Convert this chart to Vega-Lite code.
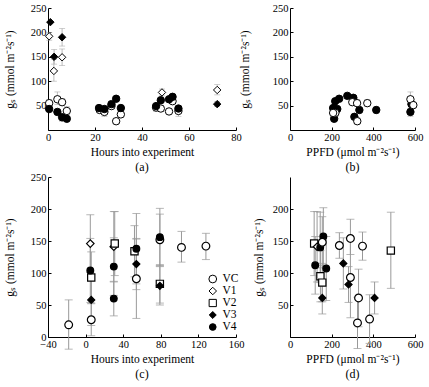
{
  "$schema": "https://vega.github.io/schema/vega-lite/v6.json",
  "background": "white",
  "padding": {"left": 4, "top": 3, "right": 2, "bottom": 2},
  "config": {
    "view": {"stroke": null},
    "font": "Liberation Serif",
    "axis": {"grid": false, "domainColor": "black", "tickColor": "black", "tickSize": -3, "labelPadding": 5, "labelFont": "Liberation Serif", "labelFontSize": 10.5, "labelColor": "black", "titleFont": "Liberation Serif", "titleFontSize": 11.5, "titleFontWeight": "normal", "titleColor": "black", "labelFlush": false, "labelOverlap": false},
    "axisY": {"titlePadding": 15},
    "axisX": {"titlePadding": 4},
    "legend": {"labelFont": "Liberation Serif", "labelFontSize": 11.5, "labelColor": "black", "labelOffset": 4, "symbolSize": 55, "symbolStrokeColor": "black", "symbolStrokeWidth": 1},
    "title": {"font": "Liberation Serif", "fontSize": 12, "fontWeight": "normal", "color": "black", "orient": "bottom", "frame": "group", "anchor": "middle", "offset": 4}
  },
  "datasets": {
    "pts": [
      {"p": "a", "s": "V3", "x": 1, "y": 221},
      {"p": "a", "s": "V3", "x": 2.6, "y": 150, "lo": 135, "hi": 165},
      {"p": "a", "s": "V3", "x": 6, "y": 190, "lo": 172, "hi": 208},
      {"p": "a", "s": "V3", "x": 72, "y": 53, "lo": 48, "hi": 58},
      {"p": "a", "s": "V1", "x": 0.5, "y": 192, "lo": 184, "hi": 200},
      {"p": "a", "s": "V1", "x": 2.5, "y": 121, "lo": 100, "hi": 145},
      {"p": "a", "s": "V1", "x": 6, "y": 149, "lo": 132, "hi": 166},
      {"p": "a", "s": "V1", "x": 48.5, "y": 77, "lo": 70, "hi": 84},
      {"p": "a", "s": "V1", "x": 72, "y": 82, "lo": 72, "hi": 93},
      {"p": "a", "s": "VC", "x": 0.5, "y": 55, "lo": 48, "hi": 62},
      {"p": "a", "s": "VC", "x": 4, "y": 63, "lo": 52, "hi": 78},
      {"p": "a", "s": "VC", "x": 6, "y": 57, "lo": 50, "hi": 64},
      {"p": "a", "s": "VC", "x": 8, "y": 39, "lo": 32, "hi": 48},
      {"p": "a", "s": "VC", "x": 22, "y": 41, "lo": 36, "hi": 46},
      {"p": "a", "s": "VC", "x": 24, "y": 37, "lo": 28, "hi": 44},
      {"p": "a", "s": "VC", "x": 27, "y": 49, "lo": 44, "hi": 54},
      {"p": "a", "s": "VC", "x": 29, "y": 18, "lo": 12, "hi": 24},
      {"p": "a", "s": "VC", "x": 31, "y": 32, "lo": 26, "hi": 38},
      {"p": "a", "s": "VC", "x": 46, "y": 46, "lo": 38, "hi": 52},
      {"p": "a", "s": "VC", "x": 48, "y": 44, "lo": 38, "hi": 50},
      {"p": "a", "s": "VC", "x": 51.5, "y": 38, "lo": 33, "hi": 43},
      {"p": "a", "s": "VC", "x": 53, "y": 59, "lo": 54, "hi": 64},
      {"p": "a", "s": "VC", "x": 55.5, "y": 39, "lo": 28, "hi": 46},
      {"p": "a", "s": "V4", "x": 0.5, "y": 43},
      {"p": "a", "s": "V4", "x": 4, "y": 37},
      {"p": "a", "s": "V4", "x": 6, "y": 26, "lo": 18, "hi": 34},
      {"p": "a", "s": "V4", "x": 8, "y": 23},
      {"p": "a", "s": "V4", "x": 21.7, "y": 45},
      {"p": "a", "s": "V4", "x": 24, "y": 43},
      {"p": "a", "s": "V4", "x": 27, "y": 53},
      {"p": "a", "s": "V4", "x": 29, "y": 64},
      {"p": "a", "s": "V4", "x": 31, "y": 45},
      {"p": "a", "s": "V4", "x": 46, "y": 49},
      {"p": "a", "s": "V4", "x": 48, "y": 61, "lo": 55, "hi": 67},
      {"p": "a", "s": "V4", "x": 51.5, "y": 63},
      {"p": "a", "s": "V4", "x": 53, "y": 68},
      {"p": "a", "s": "V4", "x": 55.5, "y": 44},
      {"p": "b", "s": "V4", "x": 207, "y": 45},
      {"p": "b", "s": "V4", "x": 217, "y": 59},
      {"p": "b", "s": "V4", "x": 236, "y": 64},
      {"p": "b", "s": "V4", "x": 227, "y": 43},
      {"p": "b", "s": "V4", "x": 212, "y": 23},
      {"p": "b", "s": "V4", "x": 275, "y": 70},
      {"p": "b", "s": "V4", "x": 304, "y": 66},
      {"p": "b", "s": "V4", "x": 333, "y": 41},
      {"p": "b", "s": "V4", "x": 309, "y": 27},
      {"p": "b", "s": "V4", "x": 414, "y": 41, "lo": 35, "hi": 47},
      {"p": "b", "s": "V4", "x": 583, "y": 53, "lo": 45, "hi": 61},
      {"p": "b", "s": "V4", "x": 578, "y": 37, "lo": 28, "hi": 44},
      {"p": "b", "s": "VC", "x": 218, "y": 35, "lo": 28, "hi": 42},
      {"p": "b", "s": "VC", "x": 207, "y": 35},
      {"p": "b", "s": "VC", "x": 299, "y": 57},
      {"p": "b", "s": "VC", "x": 322, "y": 55, "lo": 48, "hi": 62},
      {"p": "b", "s": "VC", "x": 323, "y": 18, "lo": 12, "hi": 25},
      {"p": "b", "s": "VC", "x": 371, "y": 55, "lo": 48, "hi": 62},
      {"p": "b", "s": "VC", "x": 578, "y": 63, "lo": 52, "hi": 78},
      {"p": "b", "s": "VC", "x": 592, "y": 51},
      {"p": "c", "s": "VC", "x": -18, "y": 19, "lo": -19, "hi": 58},
      {"p": "c", "s": "VC", "x": 6, "y": 27, "lo": 2, "hi": 52},
      {"p": "c", "s": "VC", "x": 54, "y": 91, "lo": 29, "hi": 153},
      {"p": "c", "s": "VC", "x": 79, "y": 152, "lo": 112, "hi": 192},
      {"p": "c", "s": "VC", "x": 102, "y": 140, "lo": 117, "hi": 165},
      {"p": "c", "s": "VC", "x": 128, "y": 142, "lo": 121, "hi": 162},
      {"p": "c", "s": "V1", "x": 5, "y": 146, "lo": 101, "hi": 191},
      {"p": "c", "s": "V1", "x": 30, "y": 141, "lo": 86, "hi": 196},
      {"p": "c", "s": "V2", "x": 6, "y": 93, "lo": 53, "hi": 133},
      {"p": "c", "s": "V2", "x": 31, "y": 146, "lo": 96, "hi": 196},
      {"p": "c", "s": "V2", "x": 52, "y": 134, "lo": 94, "hi": 174},
      {"p": "c", "s": "V2", "x": 79, "y": 83, "lo": 53, "hi": 113},
      {"p": "c", "s": "V3", "x": 6, "y": 58, "lo": 18, "hi": 98},
      {"p": "c", "s": "V3", "x": 54, "y": 114, "lo": 74, "hi": 154},
      {"p": "c", "s": "V3", "x": 79, "y": 80, "lo": 50, "hi": 110},
      {"p": "c", "s": "V4", "x": 5, "y": 104, "lo": 54, "hi": 154},
      {"p": "c", "s": "V4", "x": 30, "y": 110, "lo": 65, "hi": 155},
      {"p": "c", "s": "V4", "x": 30, "y": 60, "lo": 33, "hi": 87},
      {"p": "c", "s": "V4", "x": 54, "y": 138, "lo": 83, "hi": 193},
      {"p": "c", "s": "V4", "x": 79, "y": 156, "lo": 111, "hi": 201},
      {"p": "d", "s": "V2", "x": 116, "y": 146, "lo": 96, "hi": 196},
      {"p": "d", "s": "V2", "x": 146, "y": 95, "lo": 55, "hi": 135},
      {"p": "d", "s": "V2", "x": 155, "y": 85, "lo": 55, "hi": 115},
      {"p": "d", "s": "V2", "x": 484, "y": 135, "lo": 76, "hi": 195},
      {"p": "d", "s": "V1", "x": 130, "y": 141, "lo": 86, "hi": 196},
      {"p": "d", "s": "V4", "x": 145, "y": 140, "lo": 85, "hi": 195},
      {"p": "d", "s": "V4", "x": 160, "y": 157, "lo": 112, "hi": 202},
      {"p": "d", "s": "V4", "x": 121, "y": 112, "lo": 67, "hi": 157},
      {"p": "d", "s": "V4", "x": 174, "y": 107, "lo": 57, "hi": 157},
      {"p": "d", "s": "VC", "x": 155, "y": 148, "lo": 108, "hi": 188},
      {"p": "d", "s": "VC", "x": 237, "y": 143, "lo": 123, "hi": 163},
      {"p": "d", "s": "VC", "x": 290, "y": 154, "lo": 129, "hi": 184},
      {"p": "d", "s": "VC", "x": 290, "y": 93, "lo": 30, "hi": 156},
      {"p": "d", "s": "VC", "x": 348, "y": 142, "lo": 120, "hi": 164},
      {"p": "d", "s": "VC", "x": 329, "y": 61, "lo": 16, "hi": 106},
      {"p": "d", "s": "VC", "x": 324, "y": 22, "lo": -18, "hi": 62},
      {"p": "d", "s": "VC", "x": 382, "y": 28, "lo": -10, "hi": 66},
      {"p": "d", "s": "V3", "x": 155, "y": 61, "lo": 36, "hi": 86},
      {"p": "d", "s": "V3", "x": 256, "y": 115, "lo": 75, "hi": 155},
      {"p": "d", "s": "V3", "x": 281, "y": 82, "lo": 54, "hi": 110},
      {"p": "d", "s": "V3", "x": 406, "y": 61, "lo": 36, "hi": 86}
    ]
  },
  "columns": 2,
  "bounds": "flush",
  "spacing": {"row": 47, "column": 54},
  "resolve": {"scale": {"shape": "independent", "color": "independent", "size": "independent", "x": "independent", "y": "independent"}, "legend": {"shape": "independent", "color": "independent", "size": "independent"}},
  "concat": [
    {
      "width": 188, "height": 122,
      "title": {"text": "(a)"},
      "data": {"name": "pts"},
      "transform": [{"filter": "datum.p == 'a'"}],
      "encoding": {"x": {"field": "x", "type": "quantitative", "scale": {"domain": [0, 80], "nice": false, "zero": false}, "axis": {"values": [0, 20, 40, 60, 80], "title": "Hours into experiment"}}},
      "layer": [
        {"mark": {"type": "rule", "color": "#aaaaaa", "strokeWidth": 0.8},
         "encoding": {"y": {"field": "lo", "type": "quantitative", "scale": {"domain": [0, 250], "nice": false}, "axis": {"values": [50, 100, 150, 200, 250], "title": "gₛ (mmol m⁻²s⁻¹)"}}, "y2": {"field": "hi"}}},
        {"mark": {"type": "tick", "orient": "horizontal", "size": 6, "thickness": 0.8, "color": "#aaaaaa"},
         "encoding": {"y": {"field": "lo", "type": "quantitative", "scale": {"domain": [0, 250], "nice": false}, "axis": {"values": [50, 100, 150, 200, 250], "title": "gₛ (mmol m⁻²s⁻¹)"}}}},
        {"mark": {"type": "tick", "orient": "horizontal", "size": 6, "thickness": 0.8, "color": "#aaaaaa"},
         "encoding": {"y": {"field": "hi", "type": "quantitative", "scale": {"domain": [0, 250], "nice": false}, "axis": {"values": [50, 100, 150, 200, 250], "title": "gₛ (mmol m⁻²s⁻¹)"}}}},
        {"mark": {"type": "point", "filled": true, "stroke": "black", "strokeWidth": 1, "size": 55, "opacity": 1},
         "encoding": {
           "y": {"field": "y", "type": "quantitative", "scale": {"domain": [0, 250], "nice": false}, "axis": {"values": [50, 100, 150, 200, 250], "title": "gₛ (mmol m⁻²s⁻¹)"}},
           "shape": {"field": "s", "type": "nominal", "scale": {"domain": ["VC", "V1", "V2", "V3", "V4"], "range": ["circle", "diamond", "square", "diamond", "circle"]}, "legend": null},
           "color": {"field": "s", "type": "nominal", "scale": {"domain": ["VC", "V1", "V2", "V3", "V4"], "range": ["white", "white", "white", "black", "black"]}, "legend": null}
         }}
      ]
    },
    {
      "width": 125, "height": 122,
      "title": {"text": "(b)"},
      "data": {"name": "pts"},
      "transform": [{"filter": "datum.p == 'b'"}],
      "encoding": {"x": {"field": "x", "type": "quantitative", "scale": {"domain": [0, 600], "nice": false}, "axis": {"values": [0, 200, 400, 600], "title": "PPFD (μmol m⁻²s⁻¹)"}}},
      "layer": [
        {"mark": {"type": "rule", "color": "#aaaaaa", "strokeWidth": 0.8},
         "encoding": {"y": {"field": "lo", "type": "quantitative", "scale": {"domain": [0, 250], "nice": false}, "axis": {"values": [50, 100, 150, 200, 250], "title": "gₛ (mmol m⁻²s⁻¹)", "titlePadding": 22}}, "y2": {"field": "hi"}}},
        {"mark": {"type": "tick", "orient": "horizontal", "size": 6, "thickness": 0.8, "color": "#aaaaaa"},
         "encoding": {"y": {"field": "lo", "type": "quantitative", "scale": {"domain": [0, 250], "nice": false}, "axis": {"values": [50, 100, 150, 200, 250], "title": "gₛ (mmol m⁻²s⁻¹)", "titlePadding": 22}}}},
        {"mark": {"type": "tick", "orient": "horizontal", "size": 6, "thickness": 0.8, "color": "#aaaaaa"},
         "encoding": {"y": {"field": "hi", "type": "quantitative", "scale": {"domain": [0, 250], "nice": false}, "axis": {"values": [50, 100, 150, 200, 250], "title": "gₛ (mmol m⁻²s⁻¹)", "titlePadding": 22}}}},
        {"mark": {"type": "point", "filled": true, "stroke": "black", "strokeWidth": 1, "size": 55, "opacity": 1},
         "encoding": {
           "y": {"field": "y", "type": "quantitative", "scale": {"domain": [0, 250], "nice": false}, "axis": {"values": [50, 100, 150, 200, 250], "title": "gₛ (mmol m⁻²s⁻¹)", "titlePadding": 22}},
           "shape": {"field": "s", "type": "nominal", "scale": {"domain": ["VC", "V1", "V2", "V3", "V4"], "range": ["circle", "diamond", "square", "diamond", "circle"]}, "legend": null},
           "color": {"field": "s", "type": "nominal", "scale": {"domain": ["VC", "V1", "V2", "V3", "V4"], "range": ["white", "white", "white", "black", "black"]}, "legend": null}
         }}
      ]
    },
    {
      "width": 188, "height": 160,
      "title": {"text": "(c)"},
      "data": {"name": "pts"},
      "transform": [{"filter": "datum.p == 'c'"}],
      "encoding": {"x": {"field": "x", "type": "quantitative", "scale": {"domain": [-40, 160], "nice": false, "zero": false}, "axis": {"values": [-40, 0, 40, 80, 120, 160], "title": "Hours into experiment"}}},
      "layer": [
        {"mark": {"type": "rule", "color": "#999999", "strokeWidth": 1},
         "encoding": {"y": {"field": "lo", "type": "quantitative", "scale": {"domain": [0, 250], "nice": false}, "axis": {"values": [0, 50, 100, 150, 200, 250], "title": "gₛ (mmol m⁻²s⁻¹)"}}, "y2": {"field": "hi"}}},
        {"mark": {"type": "tick", "orient": "horizontal", "size": 8, "thickness": 1, "color": "#999999"},
         "encoding": {"y": {"field": "lo", "type": "quantitative", "scale": {"domain": [0, 250], "nice": false}, "axis": {"values": [0, 50, 100, 150, 200, 250], "title": "gₛ (mmol m⁻²s⁻¹)"}}}},
        {"mark": {"type": "tick", "orient": "horizontal", "size": 8, "thickness": 1, "color": "#999999"},
         "encoding": {"y": {"field": "hi", "type": "quantitative", "scale": {"domain": [0, 250], "nice": false}, "axis": {"values": [0, 50, 100, 150, 200, 250], "title": "gₛ (mmol m⁻²s⁻¹)"}}}},
        {"mark": {"type": "point", "filled": true, "stroke": "black", "strokeWidth": 1.2, "opacity": 1},
         "encoding": {
           "y": {"field": "y", "type": "quantitative", "scale": {"domain": [0, 250], "nice": false}, "axis": {"values": [0, 50, 100, 150, 200, 250], "title": "gₛ (mmol m⁻²s⁻¹)"}},
           "shape": {"field": "s", "type": "nominal", "scale": {"domain": ["VC", "V1", "V2", "V3", "V4"], "range": ["circle", "diamond", "square", "diamond", "circle"]}, "legend": {"orient": "none", "legendX": 159, "legendY": 97, "title": null, "clipHeight": 10, "rowPadding": 0, "labelFontSize": 11.5}},
           "color": {"field": "s", "type": "nominal", "scale": {"domain": ["VC", "V1", "V2", "V3", "V4"], "range": ["white", "white", "white", "black", "black"]}, "legend": {"orient": "none", "legendX": 159, "legendY": 97, "title": null, "clipHeight": 10, "rowPadding": 0, "labelFontSize": 11.5}},
           "size": {"field": "s", "type": "nominal", "scale": {"domain": ["VC", "V1", "V2", "V3", "V4"], "range": [60, 45, 70, 30, 60]}, "legend": null}
         }}
      ]
    },
    {
      "width": 125, "height": 160,
      "title": {"text": "(d)"},
      "data": {"name": "pts"},
      "transform": [{"filter": "datum.p == 'd'"}],
      "encoding": {"x": {"field": "x", "type": "quantitative", "scale": {"domain": [0, 600], "nice": false}, "axis": {"values": [0, 200, 400, 600], "title": "PPFD (μmol m⁻²s⁻¹)"}}},
      "layer": [
        {"mark": {"type": "rule", "color": "#999999", "strokeWidth": 1},
         "encoding": {"y": {"field": "lo", "type": "quantitative", "scale": {"domain": [0, 250], "nice": false}, "axis": {"values": [50, 100, 150, 200], "title": "gₛ (mmol m⁻²s⁻¹)", "titlePadding": 8}}, "y2": {"field": "hi"}}},
        {"mark": {"type": "tick", "orient": "horizontal", "size": 8, "thickness": 1, "color": "#999999"},
         "encoding": {"y": {"field": "lo", "type": "quantitative", "scale": {"domain": [0, 250], "nice": false}, "axis": {"values": [50, 100, 150, 200], "title": "gₛ (mmol m⁻²s⁻¹)", "titlePadding": 8}}}},
        {"mark": {"type": "tick", "orient": "horizontal", "size": 8, "thickness": 1, "color": "#999999"},
         "encoding": {"y": {"field": "hi", "type": "quantitative", "scale": {"domain": [0, 250], "nice": false}, "axis": {"values": [50, 100, 150, 200], "title": "gₛ (mmol m⁻²s⁻¹)", "titlePadding": 8}}}},
        {"mark": {"type": "point", "filled": true, "stroke": "black", "strokeWidth": 1.2, "opacity": 1},
         "encoding": {
           "y": {"field": "y", "type": "quantitative", "scale": {"domain": [0, 250], "nice": false}, "axis": {"values": [50, 100, 150, 200], "title": "gₛ (mmol m⁻²s⁻¹)", "titlePadding": 8}},
           "shape": {"field": "s", "type": "nominal", "scale": {"domain": ["VC", "V1", "V2", "V3", "V4"], "range": ["circle", "diamond", "square", "diamond", "circle"]}, "legend": null},
           "color": {"field": "s", "type": "nominal", "scale": {"domain": ["VC", "V1", "V2", "V3", "V4"], "range": ["white", "white", "white", "black", "black"]}, "legend": null},
           "size": {"field": "s", "type": "nominal", "scale": {"domain": ["VC", "V1", "V2", "V3", "V4"], "range": [60, 45, 70, 30, 60]}, "legend": null}
         }}
      ]
    }
  ]
}
